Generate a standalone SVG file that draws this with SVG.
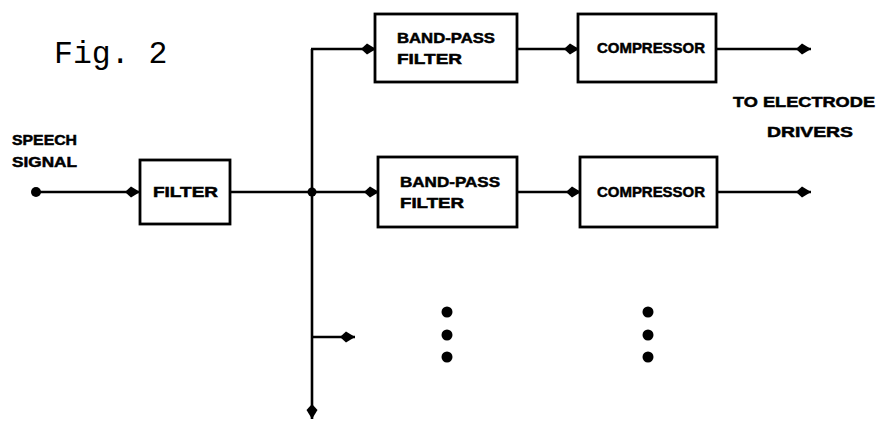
<svg xmlns="http://www.w3.org/2000/svg" width="876" height="422" viewBox="0 0 876 422">
<style>
.box{fill:#fff;stroke:#000;stroke-width:2.8}
.ln{fill:none;stroke:#000;stroke-width:2.6}
.lb{font-family:"Liberation Sans",Arial,sans-serif;font-weight:bold;font-size:15px;fill:#000;stroke:#000;stroke-width:0.5}
.fig{font-family:"Liberation Mono","Courier New",monospace;font-size:31.5px;fill:#000}
</style>
<defs>
<marker id="ah" markerWidth="16" markerHeight="14" refX="15" refY="7" orient="auto" markerUnits="userSpaceOnUse">
<path d="M0,7 L6,1.5 L15,7 L6,12.5 Z" fill="#000"/>
</marker>
</defs>
<rect width="876" height="422" fill="#fff"/>
<text class="fig" x="54" y="63">Fig. 2</text>
<g id="speech-signal">
<text class="lb" x="12" y="145" textLength="65" lengthAdjust="spacingAndGlyphs">SPEECH</text>
<text class="lb" x="12" y="167" textLength="65" lengthAdjust="spacingAndGlyphs">SIGNAL</text>
<circle cx="36" cy="192" r="5"/>
</g>
<g id="filter">
<rect class="box" x="140" y="160" width="90" height="64"/>
<text class="lb" x="153" y="197" textLength="65" lengthAdjust="spacingAndGlyphs">FILTER</text>
</g>
<g id="bpf1">
<rect class="box" x="375" y="14" width="142" height="68"/>
<text class="lb" x="397" y="43" textLength="98" lengthAdjust="spacingAndGlyphs">BAND-PASS</text>
<text class="lb" x="397" y="64" textLength="65" lengthAdjust="spacingAndGlyphs">FILTER</text>
</g>
<g id="bpf2">
<rect class="box" x="378" y="157" width="139" height="70"/>
<text class="lb" x="400" y="187" textLength="100" lengthAdjust="spacingAndGlyphs">BAND-PASS</text>
<text class="lb" x="400" y="208" textLength="64" lengthAdjust="spacingAndGlyphs">FILTER</text>
</g>
<g id="comp1">
<rect class="box" x="578" y="14" width="138" height="68"/>
<text class="lb" x="597" y="53" textLength="108" lengthAdjust="spacingAndGlyphs">COMPRESSOR</text>
</g>
<g id="comp2">
<rect class="box" x="580" y="157" width="137" height="70"/>
<text class="lb" x="597" y="197" textLength="108" lengthAdjust="spacingAndGlyphs">COMPRESSOR</text>
</g>
<g id="output-label">
<text class="lb" x="733" y="107" textLength="142" lengthAdjust="spacingAndGlyphs">TO ELECTRODE</text>
<text class="lb" x="767" y="137" textLength="86" lengthAdjust="spacingAndGlyphs">DRIVERS</text>
</g>
<g id="ellipsis">
<circle cx="447" cy="312" r="5.5"/>
<circle cx="447" cy="335" r="5.5"/>
<circle cx="447" cy="357" r="5.5"/>
<circle cx="648" cy="312" r="5.5"/>
<circle cx="648" cy="335" r="5.5"/>
<circle cx="648" cy="357" r="5.5"/>
</g>
<g id="connectors">
<line class="ln" x1="36" y1="192" x2="140" y2="192" marker-end="url(#ah)"/>
<line class="ln" x1="230" y1="192" x2="312" y2="192"/>
<circle cx="312" cy="192" r="4.5"/>
<line class="ln" x1="312" y1="49" x2="312" y2="419" marker-end="url(#ah)"/>
<line class="ln" x1="311" y1="49" x2="376" y2="49" marker-end="url(#ah)"/>
<line class="ln" x1="312" y1="192" x2="379" y2="192" marker-end="url(#ah)"/>
<line class="ln" x1="312" y1="337" x2="355" y2="337" marker-end="url(#ah)"/>
<line class="ln" x1="517" y1="49" x2="579" y2="49" marker-end="url(#ah)"/>
<line class="ln" x1="517" y1="192" x2="581" y2="192" marker-end="url(#ah)"/>
<line class="ln" x1="716" y1="49" x2="811" y2="49" marker-end="url(#ah)"/>
<line class="ln" x1="717" y1="192" x2="811" y2="192" marker-end="url(#ah)"/>
</g>
</svg>
